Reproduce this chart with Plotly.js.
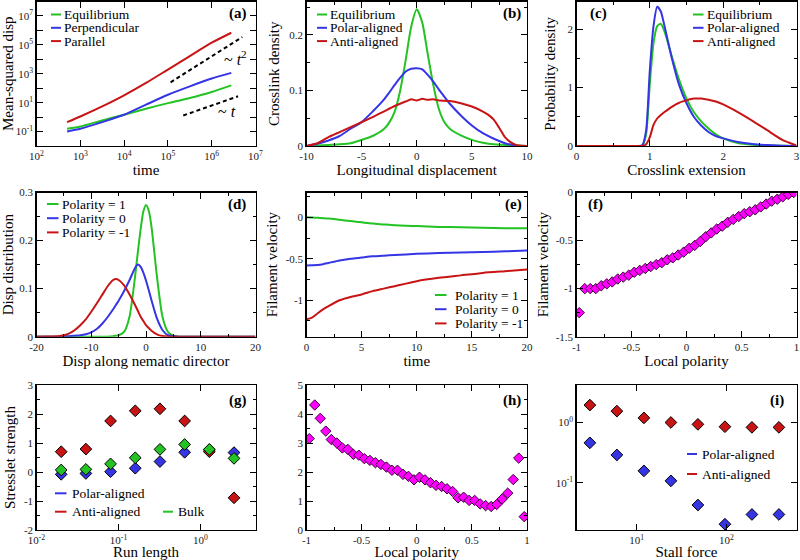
<!DOCTYPE html>
<html>
<head>
<meta charset="utf-8">
<script src="https://cdn.plot.ly/plotly-3.0.1.min.js"></script>
<style>
body { margin: 0; background: #fff; }
#chart { width: 800px; height: 560px; }
</style>
</head>
<body>
<div id="chart"></div>
<script>
// ---- (a) mean-squared displacement ----
var msdTime  = [500, 1000, 3162, 1e4, 31623, 1e5, 316228, 1e6, 2.8e6];
var msdEquil = [0.155, 0.224, 0.59, 1.45, 3.8, 9.3, 21, 55, 158];
var msdPerp  = [0.1, 0.155, 0.45, 1.45, 7.2, 35, 135, 470, 1150];
var msdPar   = [0.45, 1.1, 5.5, 32, 230, 1950, 16600, 141000, 690000];
var guideT2x = [1.15e5, 5e6], guideT2y = [257, 3.47e5];
var guideTx  = [2.24e5, 4e6], guideTy  = [1.29, 27.5];

// ---- (b) crosslink density vs longitudinal displacement ----
var dispX     = [-10, -9, -8, -7, -6, -5, -4, -3, -2.5, -2, -1.5, -1, -0.5, 0, 0.5, 1, 1.5, 2, 2.5, 3, 4, 5, 6, 7, 8, 9, 10];
var densEquil = [0, 0.001, 0.002, 0.003, 0.005, 0.011, 0.018, 0.03, 0.042, 0.062, 0.1, 0.155, 0.215, 0.246, 0.222, 0.165, 0.11, 0.067, 0.043, 0.031, 0.019, 0.011, 0.006, 0.003, 0.002, 0.001, 0];
var densPolar = [0, 0.004, 0.01, 0.018, 0.031, 0.043, 0.062, 0.083, 0.096, 0.11, 0.123, 0.134, 0.139, 0.14, 0.138, 0.128, 0.116, 0.102, 0.089, 0.076, 0.055, 0.037, 0.023, 0.013, 0.005, 0.001, 0];
var antiX     = [-10, -9, -8, -7, -6, -5, -4, -3, -2, -1, -0.5, 0, 0.5, 1, 1.5, 2, 3, 4, 5, 6, 6.5, 7, 7.5, 8, 8.5, 9, 9.5, 10];
var densAnti  = [0, 0.005, 0.016, 0.025, 0.034, 0.043, 0.052, 0.062, 0.072, 0.08, 0.084, 0.082, 0.085, 0.083, 0.084, 0.082, 0.081, 0.077, 0.071, 0.062, 0.056, 0.047, 0.032, 0.016, 0.007, 0.002, 0.0005, 0];

// ---- (c) crosslink extension ----
var extX      = [0, 0.85, 0.9, 0.95, 1.0, 1.05, 1.1, 1.15, 1.2, 1.3, 1.4, 1.5, 1.6, 1.7, 1.8, 1.9, 2.0, 2.2, 2.4, 2.6, 2.8, 3.0];
var probEquil = [0, 0, 0.01, 0.21, 1.07, 1.76, 2.05, 2.09, 1.96, 1.53, 1.13, 0.81, 0.58, 0.42, 0.3, 0.2, 0.13, 0.05, 0.02, 0.008, 0.003, 0.001];
var probPolar = [0, 0, 0.02, 0.27, 1.3, 2.05, 2.38, 2.3, 2.05, 1.5, 1.04, 0.73, 0.5, 0.35, 0.24, 0.17, 0.13, 0.07, 0.035, 0.015, 0.005, 0.001];
var probAnti  = [0, 0, 0, 0.03, 0.15, 0.36, 0.47, 0.53, 0.58, 0.67, 0.74, 0.78, 0.81, 0.81, 0.79, 0.76, 0.71, 0.58, 0.43, 0.27, 0.11, 0.01];

// ---- (d) displacement along nematic director ----
var nemX   = [-20, -18, -16, -15, -14, -13, -12, -11, -10, -9, -8, -7, -6, -5.5, -5, -4, -3, -2, -1.5, -1, -0.5, 0, 0.5, 1, 2, 3, 4, 5, 6, 8, 10, 20];
var nemP1  = [0, 0, 0, 0, 0, 0, 0, 0, 0, 0, 0, 0, 0.001, 0.002, 0.003, 0.01, 0.042, 0.125, 0.175, 0.222, 0.26, 0.274, 0.262, 0.229, 0.125, 0.042, 0.01, 0.002, 0, 0, 0, 0];
var nemP0  = [0, 0, 0, 0.001, 0.001, 0.002, 0.003, 0.005, 0.009, 0.016, 0.027, 0.041, 0.057, 0.066, 0.075, 0.095, 0.118, 0.143, 0.15, 0.146, 0.134, 0.117, 0.097, 0.076, 0.038, 0.014, 0.003, 0.001, 0, 0, 0, 0];
var nemPm1 = [0, 0.0005, 0.001, 0.003, 0.007, 0.014, 0.024, 0.036, 0.052, 0.069, 0.087, 0.105, 0.118, 0.12, 0.118, 0.107, 0.088, 0.066, 0.054, 0.042, 0.033, 0.024, 0.018, 0.0125, 0.005, 0.0015, 0.0005, 0, 0, 0, 0, 0];

// ---- (e) filament velocity vs time ----
var velT    = [0, 0.5, 1, 1.5, 2, 3, 4, 5, 6, 7, 8, 10, 12, 14, 16, 18, 20];
var velP1   = [0, -0.002, -0.005, -0.01, -0.015, -0.03, -0.045, -0.06, -0.075, -0.085, -0.095, -0.105, -0.115, -0.12, -0.125, -0.13, -0.132];
var velP0   = [-0.58, -0.578, -0.575, -0.565, -0.55, -0.52, -0.5, -0.485, -0.47, -0.462, -0.455, -0.44, -0.43, -0.425, -0.418, -0.41, -0.4];
var velPm1  = [-1.23, -1.21, -1.16, -1.11, -1.07, -1.0, -0.96, -0.93, -0.89, -0.86, -0.83, -0.77, -0.73, -0.7, -0.67, -0.65, -0.63];

// ---- (f), (h) binned by local polarity ----
var polBins = [-0.975, -0.925, -0.875, -0.825, -0.775, -0.725, -0.675, -0.625, -0.575, -0.525,
               -0.475, -0.425, -0.375, -0.325, -0.275, -0.225, -0.175, -0.125, -0.075, -0.025,
                0.025,  0.075,  0.125,  0.175,  0.225,  0.275,  0.325,  0.375,  0.425,  0.475,
                0.525,  0.575,  0.625,  0.675,  0.725,  0.775,  0.825,  0.875,  0.925,  0.975];
var fVel = [-1.25, -1.0, -1.0, -1.0, -0.97, -0.95, -0.93, -0.9, -0.88, -0.86,
            -0.83, -0.81, -0.79, -0.77, -0.75, -0.73, -0.7, -0.68, -0.65, -0.62,
            -0.58, -0.55, -0.51, -0.46, -0.42, -0.38, -0.35, -0.31, -0.28, -0.25,
            -0.22, -0.2, -0.18, -0.15, -0.12, -0.09, -0.07, -0.045, -0.02, 0.0];
var hStress = [3.15, 4.31, 3.85, 3.41, 3.12, 3.0, 2.83, 2.78, 2.61, 2.58,
               2.46, 2.4, 2.32, 2.26, 2.17, 2.06, 2.06, 1.92, 1.85, 1.73,
               1.82, 1.73, 1.63, 1.54, 1.5, 1.42, 1.33, 1.11, 1.13, 1.02,
               1.02, 0.9, 0.84, 0.81, 0.88, 1.07, 1.27, 1.74, 2.48, 0.46];

// ---- (g) stresslet strength vs run length ----
var runLength = [0.02, 0.04, 0.08, 0.16, 0.32, 0.64, 1.28, 2.56];
var gPolar = [-0.08, -0.05, 0.01, 0.13, 0.36, 0.68, 0.76, 0.67];
var gAnti  = [0.7, 0.79, 1.76, 2.11, 2.18, 1.76, 0.7, -0.89];
var gBulk  = [0.07, 0.09, 0.28, 0.49, 0.78, 0.95, 0.78, 0.47];

// ---- (i) stresslet strength vs stall force ----
var stallForce = [3, 6, 12, 24, 48, 96, 192, 384];
var iPolar = [0.46, 0.29, 0.158, 0.108, 0.043, 0.0207, 0.03, 0.03];
var iAnti  = [1.94, 1.54, 1.19, 1.0, 0.93, 0.85, 0.83, 0.83];

// tick labels
var aXExp = [2, 3, 4, 5, 6, 7];
var aYExp = [-2, -1, 0, 1, 2, 3, 4, 5, 6, 7, 8];
var gXExp = [-2, -1, 0];
var iXExp = [1, 2];
var iYExp = [-1, 0];
var b10Vals = [-10, -5, 0, 5, 10], b10Text = ['-10', '-5', '0', '5', '10'];
var d20Vals = [-20, -10, 0, 10, 20], d20Text = ['-20', '-10', '0', '10', '20'];
var e1Vals = [-1, -0.5, 0], e1Text = ['-1', '-0.5', '0'];
var polVals = [-1, -0.5, 0, 0.5, 1], polText = ['-1', '-0.5', '0', '0.5', '1'];
var fYVals = [-1.5, -1, -0.5, 0], fYText = ['-1.5', '-1', '-0.5', '0'];
var gYVals = [-2, -1, 0, 1, 2, 3], gYText = ['-2', '-1', '0', '1', '2', '3'];

var SERIF = 'Liberation Serif';
var GREEN = '#22c322', BLUE = '#3535e6', RED = '#c81414', MAGENTA = '#ff00ff';

var colX = [[36.5, 255.5], [306.5, 527], [576.5, 796.5]];
var rowY = [[1.5, 146], [192.5, 336.7], [385, 530]];
function px(x) { return x / 800; }
function py(y) { return 1 - y / 560; }

var layout = {
    width: 800, height: 560,
    margin: {l: 0, r: 0, t: 0, b: 0},
    paper_bgcolor: '#fff', plot_bgcolor: '#fff',
    showlegend: false,
    font: {family: SERIF, size: 11, color: '#000'},
    shapes: [], annotations: []
};

function baseAxis() {
    return {
        showline: true, mirror: 'ticks', linecolor: '#000', linewidth: 1.2,
        ticks: 'inside', ticklen: 6, tickwidth: 1, tickcolor: '#000',
        showgrid: false, zeroline: false,
        tickfont: {family: SERIF, size: 11, color: '#222'}
    };
}
function ttl(text, standoff) {
    return {text: text, font: {family: SERIF, size: 15, color: '#000'}, standoff: standoff};
}
function mnr(d) {
    return {ticks: 'inside', ticklen: 3, tickmode: 'linear', tick0: 0, dtick: d, tickcolor: '#000', tickwidth: 1, showgrid: false};
}
function pow10(list, skipEven) {
    return list.map(function (e) {
        if (skipEven && e % 2 === 0) return '';
        return '10<sup>' + e + '</sup>';
    });
}
function vals10(list) { return list.map(function (e) { return Math.pow(10, e); }); }

function makeAxes(n, col, row, xo, yo) {
    var sx = n === 1 ? '' : String(n);
    layout['xaxis' + sx] = Object.assign(baseAxis(), {domain: [px(colX[col][0]), px(colX[col][1])], anchor: 'y' + sx}, xo);
    layout['yaxis' + sx] = Object.assign(baseAxis(), {domain: [py(rowY[row][1]), py(rowY[row][0])], anchor: 'x' + sx}, yo);
}

makeAxes(1, 0, 0,
    {type: 'log', range: [2, 7], tickmode: 'array', tickvals: vals10(aXExp), ticktext: pow10(aXExp), title: ttl('time', 3)},
    {type: 'log', range: [-2, 8], tickmode: 'array', tickvals: vals10(aYExp), ticktext: pow10(aYExp, true), title: ttl('Mean-squared disp', 2)});
makeAxes(2, 1, 0,
    {range: [-10, 10], tickmode: 'array', tickvals: b10Vals, ticktext: b10Text, minor: mnr(2.5), title: ttl('Longitudinal displacement', 3)},
    {range: [0, 0.26], dtick: 0.1, minor: mnr(0.05), title: ttl('Crosslink density', 6)});
makeAxes(3, 2, 0,
    {range: [0, 3], dtick: 1, minor: mnr(0.5), title: ttl('Crosslink extension', 3)},
    {range: [0, 2.47], dtick: 1, minor: mnr(0.5), title: ttl('Probability density', 8)});
makeAxes(4, 0, 1,
    {range: [-20, 20], tickmode: 'array', tickvals: d20Vals, ticktext: d20Text, minor: mnr(5), title: ttl('Disp along nematic director', 3)},
    {range: [0, 0.3], dtick: 0.1, minor: mnr(0.05), title: ttl('Disp distribution', 4)});
makeAxes(5, 1, 1,
    {range: [0, 20], dtick: 5, minor: mnr(2.5), title: ttl('time', 3)},
    {range: [-1.44, 0.3], tickmode: 'array', tickvals: e1Vals, ticktext: e1Text, minor: mnr(0.25), title: ttl('Filament velocity', 4)});
makeAxes(6, 2, 1,
    {range: [-1, 1], tickmode: 'array', tickvals: polVals, ticktext: polText, minor: mnr(0.25), title: ttl('Local polarity', 3)},
    {range: [-1.5, 0], tickmode: 'array', tickvals: fYVals, ticktext: fYText, minor: mnr(0.25), title: ttl('Filament velocity', 3)});
makeAxes(7, 0, 2,
    {type: 'log', range: [-2, 0.67], tickmode: 'array', tickvals: vals10(gXExp), ticktext: pow10(gXExp), title: ttl('Run length', 3)},
    {range: [-2, 3], tickmode: 'array', tickvals: gYVals, ticktext: gYText, minor: mnr(0.5), title: ttl('Stresslet strength', 4)});
makeAxes(8, 1, 2,
    {range: [-1, 1], tickmode: 'array', tickvals: polVals, ticktext: polText, minor: mnr(0.25), title: ttl('Local polarity', 3)},
    {range: [0, 5], dtick: 1, minor: mnr(0.5)});
makeAxes(9, 2, 2,
    {type: 'log', range: [0.328, 2.78], tickmode: 'array', tickvals: vals10(iXExp), ticktext: pow10(iXExp), title: ttl('Stall force', 3)},
    {type: 'log', range: [-1.78, 0.62], tickmode: 'array', tickvals: vals10(iYExp), ticktext: pow10(iYExp)});

var traces = [];
function lineTrace(n, x, y, color, dash) {
    var sx = n === 1 ? '' : String(n);
    traces.push({x: x, y: y, xaxis: 'x' + sx, yaxis: 'y' + sx, mode: 'lines',
        line: {color: color, width: 2, shape: dash ? 'linear' : 'spline', smoothing: 0.6, dash: dash || 'solid'},
        hoverinfo: 'skip'});
}
function dotTrace(n, x, y, color, size, edge) {
    var sx = n === 1 ? '' : String(n);
    traces.push({x: x, y: y, xaxis: 'x' + sx, yaxis: 'y' + sx, mode: 'markers',
        marker: {symbol: 'diamond', size: size, color: color, line: {color: edge, width: 1}},
        hoverinfo: 'skip'});
}

lineTrace(1, msdTime, msdEquil, GREEN);
lineTrace(1, msdTime, msdPerp, BLUE);
lineTrace(1, msdTime, msdPar, RED);
lineTrace(1, guideT2x, guideT2y, '#000', '4px,3px');
lineTrace(1, guideTx, guideTy, '#000', '4px,3px');

lineTrace(2, dispX, densEquil, GREEN);
lineTrace(2, dispX, densPolar, BLUE);
lineTrace(2, antiX, densAnti, RED);

lineTrace(3, extX, probEquil, GREEN);
lineTrace(3, extX, probPolar, BLUE);
lineTrace(3, extX, probAnti, RED);

lineTrace(4, nemX, nemP1, GREEN);
lineTrace(4, nemX, nemP0, BLUE);
lineTrace(4, nemX, nemPm1, RED);

lineTrace(5, velT, velP1, GREEN);
lineTrace(5, velT, velP0, BLUE);
lineTrace(5, velT, velPm1, RED);

dotTrace(6, polBins, fVel, MAGENTA, 8, '#3a003a');

dotTrace(7, runLength, gPolar, BLUE, 9, '#000');
dotTrace(7, runLength, gAnti, RED, 9, '#000');
dotTrace(7, runLength, gBulk, GREEN, 9, '#000');

dotTrace(8, polBins, hStress, MAGENTA, 8, '#3a003a');

dotTrace(9, stallForce, iAnti, RED, 9, '#000');
dotTrace(9, stallForce, iPolar, BLUE, 9, '#000');

// legends drawn as short line segments with text, like the original
function legendItem(name, color, x0, x1, tx, y) {
    layout.shapes.push({type: 'line', xref: 'paper', yref: 'paper', x0: px(x0), x1: px(x1), y0: py(y), y1: py(y),
        line: {color: color, width: 2}});
    layout.annotations.push({xref: 'paper', yref: 'paper', x: px(tx), y: py(y), xanchor: 'left', yanchor: 'middle',
        text: name, showarrow: false, borderpad: 0, font: {family: SERIF, size: 13.5, color: '#000'}});
}
function legendCol(names, colors, x0, x1, tx, y0, dy) {
    names.forEach(function (nm, i) { legendItem(nm, colors[i], x0, x1, tx, y0 + i * dy); });
}
legendCol(['Equilibrium', 'Perpendicular', 'Parallel'], [GREEN, BLUE, RED], 51, 61, 63, 14.5, 13.3);
legendCol(['Equilibrium', 'Polar-aligned', 'Anti-aligned'], [GREEN, BLUE, RED], 317, 327, 329, 14.5, 13.3);
legendCol(['Equilibrium', 'Polar-aligned', 'Anti-aligned'], [GREEN, BLUE, RED], 693, 703.5, 706, 14.5, 13.3);
legendCol(['Polarity = 1', 'Polarity = 0', 'Polarity = -1'], [GREEN, BLUE, RED], 47, 58.5, 60.5, 204, 14.2);
legendCol(['Polarity = 1', 'Polarity = 0', 'Polarity = -1'], [GREEN, BLUE, RED], 435, 446.5, 454, 295, 14.2);
legendItem('Polar-aligned', BLUE, 55, 66.5, 70.5, 493.3);
legendItem('Anti-aligned', RED, 55, 66.5, 70.5, 511.7);
legendItem('Bulk', GREEN, 163, 173, 177, 511.7);
legendItem('Polar-aligned', BLUE, 687, 697, 701, 454);
legendItem('Anti-aligned', RED, 687, 697, 701, 474);

// panel letters
var panelTags = ['(a)', '(b)', '(c)', '(d)', '(e)', '(f)', '(g)', '(h)', '(i)'];
var tagPos = [[238, 13.5], [511.5, 13.5], [598.5, 13.5], [236.5, 204], [513, 204], [595, 204], [238, 400], [511.5, 400], [776.5, 400]];
panelTags.forEach(function (t, i) {
    layout.annotations.push({xref: 'paper', yref: 'paper', x: px(tagPos[i][0]), y: py(tagPos[i][1]),
        xanchor: 'center', yanchor: 'middle', text: '<b>' + t + '</b>', showarrow: false,
        font: {family: SERIF, size: 15, color: '#000'}});
});

// slope guides in (a)
layout.annotations.push({xref: 'paper', yref: 'paper', x: px(235), y: py(58), xanchor: 'center', yanchor: 'middle',
    text: '~ <i>t</i><sup>2</sup>', showarrow: false, font: {family: SERIF, size: 16, color: '#000'}});
layout.annotations.push({xref: 'paper', yref: 'paper', x: px(227), y: py(111.5), xanchor: 'center', yanchor: 'middle',
    text: '~ <i>t</i>', showarrow: false, font: {family: SERIF, size: 16, color: '#000'}});

Plotly.newPlot(document.getElementById('chart'), traces, layout, {displayModeBar: false, staticPlot: true});
</script>
</body>
</html>
